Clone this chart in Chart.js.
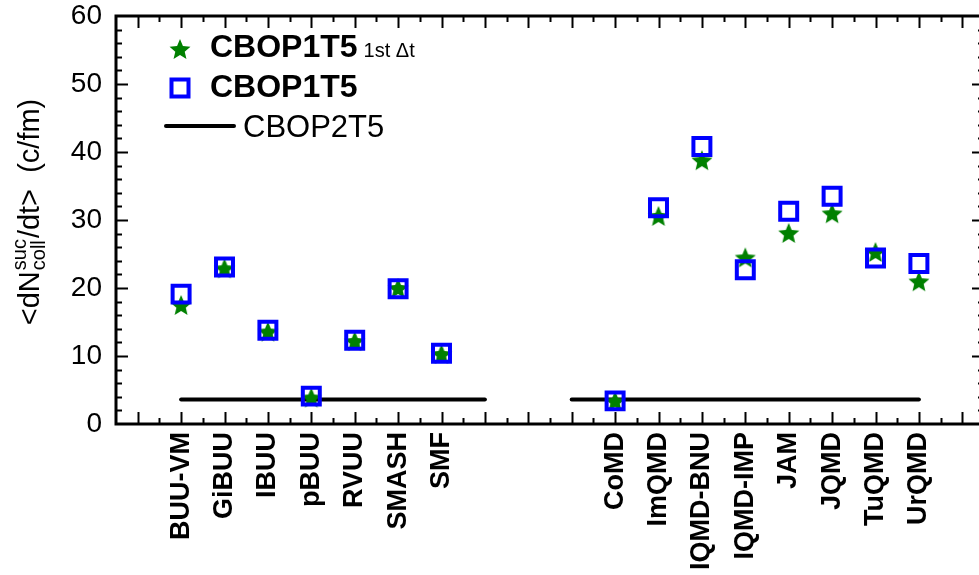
<!DOCTYPE html>
<html>
<head>
<meta charset="utf-8">
<script src="https://cdn.jsdelivr.net/npm/chart.js@4/dist/chart.umd.min.js"></script>
<style>
  html, body { margin: 0; padding: 0; background: #fff; overflow: hidden; }
  #wrap { width: 979px; height: 575px; overflow: hidden; }
</style>
</head>
<body>
<div id="wrap"><canvas id="chart" width="1000" height="575"></canvas></div>
<script>
'use strict';

// ── Data ──────────────────────────────────────────────────────────
// empty slots keep the gap between the BUU and QMD groups
const CATEGORIES = ['BUU-VM', 'GiBUU', 'IBUU', 'pBUU', 'RVUU', 'SMASH', 'SMF', '', '', '',
  'CoMD', 'ImQMD', 'IQMD-BNU', 'IQMD-IMP', 'JAM', 'JQMD', 'TuQMD', 'UrQMD'];
const CBOP1T5       = [19.1, 23.1, 13.8, 4.1, 12.3, 19.9, 10.4, null, null, null,
  3.4, 31.8, 40.8, 22.7, 31.3, 33.5, 24.4, 23.6];
const CBOP1T5_FIRST = [17.5, 22.9, 13.6, 3.9, 12.2, 20.0, 10.3, null, null, null,
  3.4, 30.6, 38.8, 24.5, 28.1, 31.0, 25.3, 21.0];
const CBOP2T5_LEVEL = 3.6;
const CBOP2T5_SPANS = [[0, 7], [9, 17]];
const Y_TICKS = [0, 10, 20, 30, 40, 50, 60];

const FONT = '"Liberation Sans", Arial, Helvetica, sans-serif';
const GREEN = '#008000';
const BLUE  = '#0000ff';

// ── Markers ───────────────────────────────────────────────────────
function makeStar(size, color) {
  const c = document.createElement('canvas');
  c.width = c.height = size;
  const g = c.getContext('2d');
  const R = size / 2 - 1, r = R * 0.45;
  const cx = size / 2, cy = size / 2 + R * 0.1;
  g.beginPath();
  for (let k = 0; k < 10; k++) {
    const a = -Math.PI / 2 + k * Math.PI / 5;
    const rad = k % 2 ? r : R;
    g.lineTo(cx + rad * Math.cos(a), cy + rad * Math.sin(a));
  }
  g.closePath();
  g.fillStyle = color;
  g.fill();
  return c;
}
const STAR = makeStar(24, GREEN);

const toPoints = arr => CATEGORIES.map((_, i) => ({ x: i, y: arr[i] })).filter(p => p.y != null);

// ── Plugins ───────────────────────────────────────────────────────
const frame = {
  id: 'frame',
  afterDatasetsDraw(chart) {
    const { ctx, chartArea: a, scales: { x, y } } = chart;
    ctx.save();
    ctx.strokeStyle = '#000';
    ctx.lineWidth = 2;
    ctx.beginPath();
    for (let v = x.min + 0.5; v < x.max; v += 0.5) {
      const px = Math.round(x.getPixelForValue(v)) + 0.5;
      const len = Number.isInteger(v) ? 12 : 6;
      ctx.moveTo(px, a.bottom); ctx.lineTo(px, a.bottom - len);
      ctx.moveTo(px, a.top);    ctx.lineTo(px, a.top + len);
    }
    for (let v = y.min + 2; v < y.max; v += 2) {
      const py = Math.round(y.getPixelForValue(v)) + 0.5;
      const len = v % 10 === 0 ? 12 : 6;
      ctx.moveTo(a.left, py);  ctx.lineTo(a.left + len, py);
      ctx.moveTo(a.right, py); ctx.lineTo(a.right - len, py);
    }
    ctx.stroke();
    ctx.lineWidth = 3;
    ctx.strokeRect(a.left, a.top, a.right - a.left, a.bottom - a.top);
    ctx.restore();
  },
};

const legendBox = {
  id: 'legendBox',
  afterDraw(chart) {
    const ctx = chart.ctx;
    ctx.save();
    ctx.drawImage(STAR, 180 - STAR.width / 2, 49 - STAR.height / 2);
    ctx.strokeStyle = BLUE; ctx.lineWidth = 4;
    ctx.strokeRect(180 - 8.5, 88 - 8.5, 17, 17);
    ctx.strokeStyle = '#000'; ctx.lineWidth = 4; ctx.lineCap = 'round';
    ctx.beginPath(); ctx.moveTo(166, 126); ctx.lineTo(234, 126); ctx.stroke();

    ctx.fillStyle = '#000';
    ctx.textBaseline = 'alphabetic';
    ctx.font = `bold 32px ${FONT}`;
    ctx.fillText('CBOP1T5', 210, 57);
    const w = ctx.measureText('CBOP1T5').width;
    ctx.fillText('CBOP1T5', 210, 97);
    ctx.font = `20px ${FONT}`;
    ctx.fillText('1st \u0394t', 210 + w + 6, 57);
    ctx.font = `31px ${FONT}`;
    ctx.fillText('CBOP2T5', 243, 137);
    ctx.restore();
  },
};

const yTitle = {
  id: 'yTitle',
  afterDraw(chart) {
    const ctx = chart.ctx;
    const big = `29px ${FONT}`, small = `20px ${FONT}`;
    const a = '<dN', b = '/dt>  (c/fm)';
    ctx.save();
    ctx.font = big;
    const wa = ctx.measureText(a).width, wb = ctx.measureText(b).width;
    ctx.font = small;
    const ws = Math.max(ctx.measureText('suc').width, ctx.measureText('coll').width);
    const total = wa + ws + wb;
    ctx.translate(39, 213);
    ctx.rotate(-Math.PI / 2);
    ctx.fillStyle = '#000';
    ctx.textBaseline = 'alphabetic';
    let x0 = -total / 2;
    ctx.font = big;  ctx.fillText(a, x0, 0); x0 += wa;
    ctx.font = small; ctx.fillText('suc', x0 + 1, -13); ctx.fillText('coll', x0 + 1, 6); x0 += ws + 2;
    ctx.font = big;  ctx.fillText(b, x0, 0);
    ctx.restore();
  },
};

// ── Chart ─────────────────────────────────────────────────────────
const lineSets = CBOP2T5_SPANS.map(s => ({
  label: 'CBOP2T5',
  data: [{ x: s[0], y: CBOP2T5_LEVEL }, { x: s[1], y: CBOP2T5_LEVEL }],
  showLine: true,
  borderColor: '#000',
  borderWidth: 4,
  borderCapStyle: 'round',
  pointRadius: 0,
  order: 2,
}));

new Chart(document.getElementById('chart'), {
  type: 'scatter',
  data: {
    datasets: [
      {
        label: 'CBOP1T5',
        data: toPoints(CBOP1T5),
        pointStyle: 'rect',
        pointRadius: 12,
        pointBorderWidth: 4,
        borderColor: BLUE,
        backgroundColor: 'rgba(0,0,0,0)',
        order: 0,
      },
      {
        label: 'CBOP1T5 1st \u0394t',
        data: toPoints(CBOP1T5_FIRST),
        pointStyle: STAR,
        pointRadius: 12,
        order: 1,
      },
      ...lineSets,
    ],
  },
  options: {
    responsive: false,
    animation: false,
    layout: { padding: { top: 13, right: 15, left: 0, bottom: 0 } },
    scales: {
      x: {
        type: 'linear',
        min: -1.5, max: 18.5,
        grid: { display: false, drawTicks: false },
        border: { display: false },
        afterBuildTicks: s => { s.ticks = CATEGORIES.map((_, i) => ({ value: i })); },
        afterFit: s => { s.height = 151; s.paddingLeft = 0; s.paddingRight = 0; },
        ticks: {
          autoSkip: false,
          minRotation: 90, maxRotation: 90,
          padding: 8,
          color: '#000',
          font: { family: FONT, size: 27, weight: 'bold' },
          callback: v => CATEGORIES[v] || '',
        },
      },
      y: {
        min: 0, max: 60,
        grid: { display: false, drawTicks: false },
        border: { display: false },
        afterBuildTicks: s => { s.ticks = Y_TICKS.map(v => ({ value: v })); },
        afterFit: s => { s.width = 116; s.paddingTop = 0; s.paddingBottom = 0; },
        ticks: { padding: 14, color: '#000', font: { family: FONT, size: 28 } },
      },
    },
    plugins: {
      legend: { display: false },
      tooltip: { enabled: false },
    },
  },
  plugins: [frame, legendBox, yTitle],
});
</script>
</body>
</html>
